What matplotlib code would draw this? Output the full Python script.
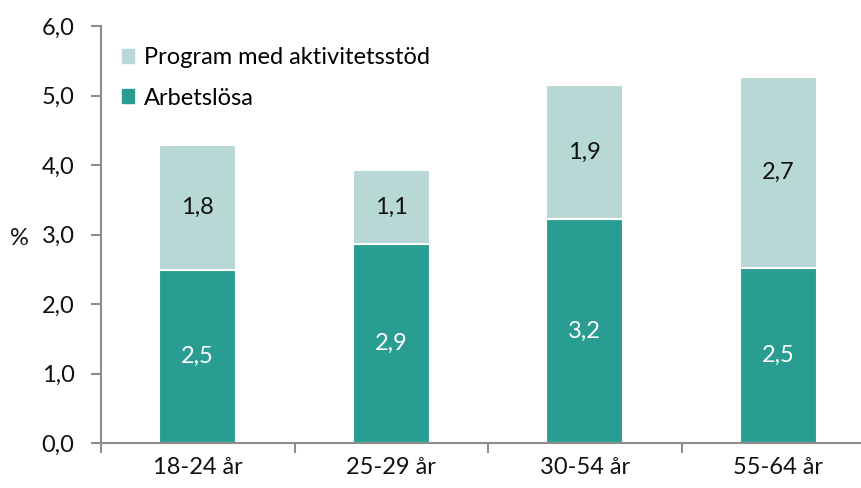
import matplotlib.pyplot as plt
from matplotlib.patches import Patch

plt.rcParams['font.family'] = ['Lato', 'DejaVu Sans']

groups = ['18-24 år', '25-29 år', '30-54 år', '55-64 år']
arbetslosa = [2.49, 2.86, 3.22, 2.52]
program = [1.80, 1.07, 1.93, 2.74]

dark = '#2a9d93'
light = '#b7d8d5'
axis_col = '#8c8c8c'
fs = 17


def sv(v):
    return f"{v:.1f}".replace('.', ',')


fig = plt.figure(figsize=(8.61, 4.88), dpi=100)
ax = fig.add_axes([101 / 861, 45 / 488, 774 / 861, 417 / 488])

x = list(range(len(groups)))
b1 = ax.bar(x, arbetslosa, width=0.4, color=dark, edgecolor='white', linewidth=1.5)
b2 = ax.bar(x, program, width=0.4, bottom=arbetslosa, color=light,
            edgecolor='white', linewidth=1.5)

for i in x:
    ax.text(i, arbetslosa[i] / 2, sv(arbetslosa[i]), ha='center', va='center',
            color='white', fontsize=fs)
    ax.text(i, arbetslosa[i] + program[i] / 2, sv(program[i]), ha='center',
            va='center', color='#111111', fontsize=fs)

ax.set_xlim(-0.5, 3.5)
ax.set_ylim(0, 6)
ax.set_yticks([0, 1, 2, 3, 4, 5, 6])
ax.set_yticklabels([sv(v) for v in range(7)])
ax.set_xticks(x)
ax.set_xticklabels(groups)
ax.set_xticks([-0.5, 0.5, 1.5, 2.5, 3.5], minor=True)
ax.tick_params(axis='x', which='major', length=0, pad=10, labelsize=fs, colors='#111111')
ax.tick_params(axis='x', which='minor', length=7, width=1.5, color=axis_col)
ax.tick_params(axis='y', length=7, width=1.5, color=axis_col, pad=12,
               labelsize=fs, labelcolor='#111111')

for s in ['top', 'right']:
    ax.spines[s].set_visible(False)
for s in ['left', 'bottom']:
    ax.spines[s].set_color(axis_col)
    ax.spines[s].set_linewidth(1.5)

ax.set_ylabel('%', rotation=0, fontsize=fs, color='#111111', va='center')
ax.yaxis.set_label_coords(-0.105, 0.49)

handles = [Patch(color=light), Patch(color=dark)]
ax.legend(handles, ['Program med aktivitetsstöd', 'Arbetslösa'],
          loc='upper left', bbox_to_anchor=(0.0, 1.0), frameon=False,
          fontsize=fs, handlelength=0.5, handleheight=0.5, handletextpad=0.4,
          labelspacing=0.82)

fig.savefig('out.png', dpi=100)
